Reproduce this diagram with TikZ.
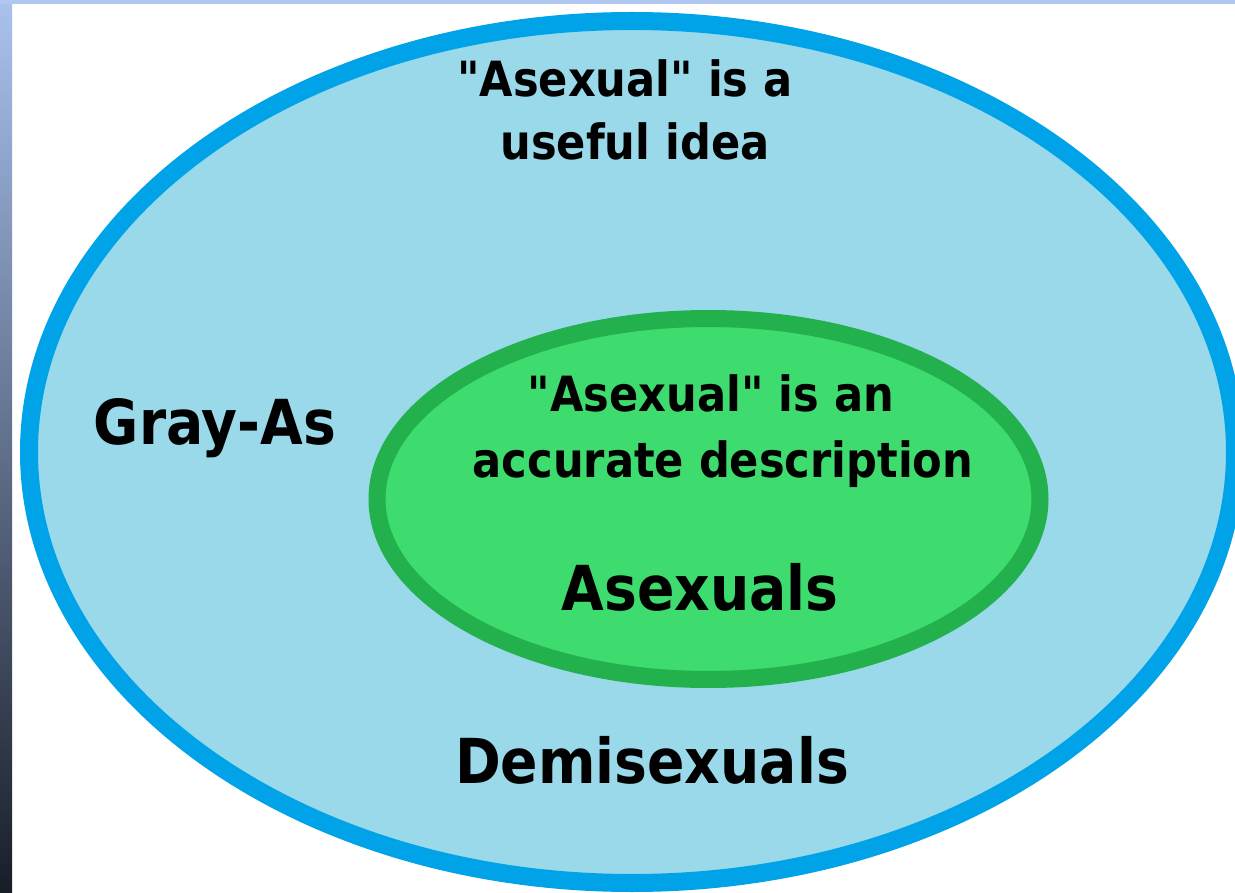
\documentclass[tikz,border=0pt]{standalone}
\usepackage{fontspec}
\setmainfont{DejaVu Sans}
\newfontfamily\labfont[BoldFeatures={FakeStretch=0.89}]{DejaVu Sans}
\usetikzlibrary{shapes.geometric}
\definecolor{skyfill}{HTML}{99D9EA}
\definecolor{skyline}{HTML}{00A2E8}
\definecolor{grnfill}{HTML}{3EDB6E}
\definecolor{grnline}{HTML}{22B14C}
\definecolor{stripA}{HTML}{A9C2EE}
\definecolor{stripB}{HTML}{5E7398}
\definecolor{stripC}{HTML}{181D28}
\definecolor{topband}{HTML}{B0C8F0}
\tikzset{
  bigtxt/.style={font=\labfont\bfseries\fontsize{62}{70}\selectfont, anchor=base, inner sep=0pt, text=black},
  smalltxt/.style={font=\labfont\bfseries\fontsize{48.5}{56}\selectfont, anchor=base, inner sep=0pt, text=black},
  outerell/.style={ellipse, draw=skyline, fill=skyfill, line width=18pt, inner sep=0pt},
  innerell/.style={ellipse, draw=grnline, fill=grnfill, line width=17pt, inner sep=0pt}
}
\begin{document}
\begin{tikzpicture}[x=1pt,y=-1pt]
\useasboundingbox (0,0) rectangle (1235,893);
\clip (0,0) rectangle (1235,893);
\fill[white] (0,0) rectangle (1235,893);
\shade[top color=stripA, middle color=stripB, bottom color=stripC] (0,0) rectangle (12,893);
\fill[topband] (0,0) rectangle (1235,4);
\node[outerell, minimum width=1206pt, minimum height=862pt] (outer) at (632,452) {};
\node[innerell, minimum width=663pt, minimum height=361pt] (inner) at (708.5,499) {};
\node[smalltxt] (t1) at (625,97) {"Asexual" is a};
\node[smalltxt] (t2) at (635,160) {useful idea};
\node[bigtxt] (gray) at (215,444) {Gray-As};
\node[smalltxt] (i1) at (711,412) {"Asexual" is an};
\node[smalltxt] (i2) at (723,477) {accurate description};
\node[bigtxt] (asex) at (700,610) {Asexuals};
\node[bigtxt] (demi) at (652,783) {Demisexuals};
\end{tikzpicture}
\end{document}
